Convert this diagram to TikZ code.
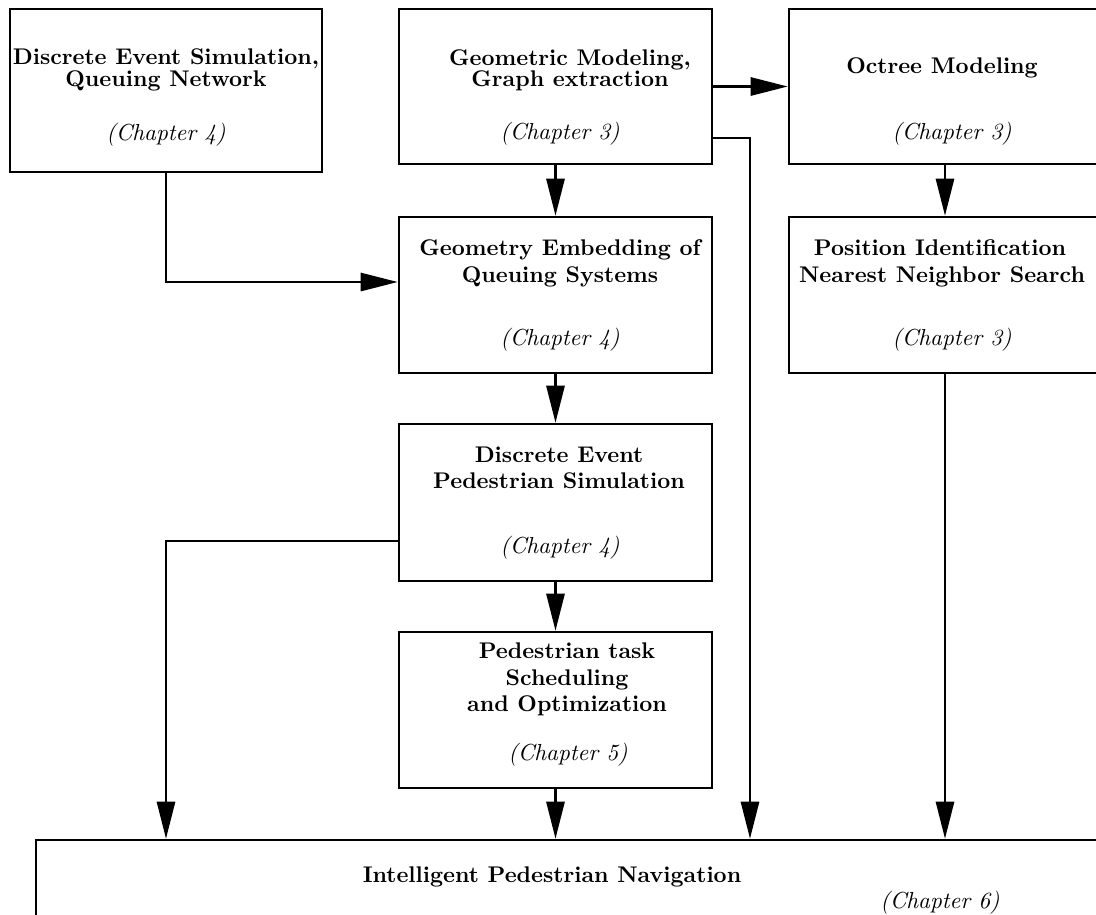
\documentclass[tikz,border=0pt]{standalone}
\usetikzlibrary{arrows.meta,fit}
\begin{document}
\begin{tikzpicture}[x=0.47pt,y=-0.47pt,
  box/.style={draw,line width=1.2pt,inner sep=0pt,rectangle},
  bt/.style={font=\fontsize{10.65}{12}\selectfont\bfseries,anchor=base,inner sep=0pt},
  ct/.style={font=\fontsize{10.9}{12}\selectfont\itshape,anchor=base,inner sep=0pt},
  conn/.style={line width=1.2pt,-{Triangle[length=17.4pt,width=8.5pt]}}]
\useasboundingbox (0,0) rectangle (1096,914);
\clip (0,0) rectangle (1096,914);

% boxes
\node[box,fit={(10,9)(322,172)}] (A) {};
\node[box,fit={(399,9)(712,164)}] (B) {};
\node[box,fit={(789,9)(1130,164)}] (C) {};
\node[box,fit={(399,217)(712,373)}] (D) {};
\node[box,fit={(789,217)(1130,373)}] (E) {};
\node[box,fit={(399,424)(712,581)}] (F) {};
\node[box,fit={(399,632)(712,788)}] (G) {};
\node[box,fit={(36,840)(1150,960)}] (H) {};

% texts
\node[bt] (a1) at (166,64) {Discrete Event Simulation,};
\node[bt] (a2) at (166,86) {Queuing Network};
\node[ct] (a3) at (166,140) {(Chapter 4)};

\node[bt] (b1) at (570,65) {Geometric Modeling,};
\node[bt] (b2) at (570,86) {Graph extraction};
\node[ct] (b3) at (560,139) {(Chapter 3)};

\node[bt] (c1) at (942,73) {Octree Modeling};
\node[ct] (c3) at (952,139) {(Chapter 3)};

\node[bt] (d1) at (560,255) {Geometry Embedding of};
\node[bt] (d2) at (560,282) {Queuing Systems};
\node[ct] (d3) at (560,345) {(Chapter 4)};

\node[bt] (e1) at (940,255) {Position Identification};
\node[bt] (e2) at (942,282) {Nearest Neighbor Search};
\node[ct] (e3) at (952,345) {(Chapter 3)};

\node[bt] (f1) at (559,462) {Discrete Event};
\node[bt] (f2) at (559,488) {Pedestrian Simulation};
\node[ct] (f3) at (560,553) {(Chapter 4)};

\node[bt] (g1) at (567,658) {Pedestrian task};
\node[bt] (g2) at (567,685) {Scheduling};
\node[bt] (g3) at (567,711) {and Optimization};
\node[ct] (g4) at (568,760) {(Chapter 5)};

\node[bt] (h1) at (552,882) {Intelligent Pedestrian Navigation};
\node[ct] (h2) at (940,908) {(Chapter 6)};

% helper coordinates
\coordinate (bh) at (750,138);
\coordinate (ce) at (945,0);
\coordinate (ad) at (166,282);
\coordinate (fh) at (166,541);

% connectors
\draw[conn] (B.east) -- (C.west);
\draw[conn] (B.south) -- (D.north);
\draw[conn] (D.south) -- (F.north);
\draw[conn] (F.south) -- (G.north);
\draw[conn] (G.south) -- (G.south |- H.north);
\draw[conn] (B.east |- bh) -- (bh) -- (bh |- H.north);
\draw[conn] (C.south -| ce) -- (E.north -| ce);
\draw[conn] (E.south -| ce) -- (H.north -| ce);
\draw[conn] (A.south) -- (ad) -- (D.west |- ad);
\draw[conn] (F.west |- fh) -- (fh) -- (fh |- H.north);
\end{tikzpicture}
\end{document}
